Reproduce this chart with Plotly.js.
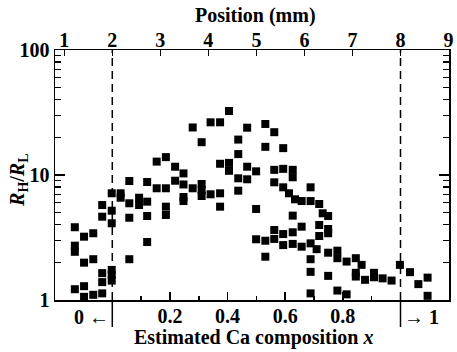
<!DOCTYPE html>
<html><head><meta charset="utf-8">
<script src="https://cdn.plot.ly/plotly-3.0.1.min.js"></script>
<style>html,body{margin:0;padding:0;background:#fff}#chart{width:457px;height:352px}</style>
</head><body><div id="chart"></div>
<script>
// Estimated Ca composition x for each measurement
const compositionX = [
  -0.130,-0.130,-0.130,-0.130,
  -0.098,-0.098,-0.098,-0.098,
  -0.066,-0.066,-0.066,
  -0.035,-0.035,-0.035,-0.035,-0.035,
  -0.002,-0.002,-0.002,-0.002,-0.002,-0.002,
  0.029,0.029,
  0.059,0.059,0.059,0.059,
  0.093,0.093,
  0.121,0.121,0.121,0.121,
  0.154,0.154,
  0.186,0.186,0.186,0.186,
  0.218,0.218,
  0.247,0.247,0.247,0.247,
  0.279,0.279,
  0.310,0.310,0.310,0.310,
  0.341,0.341,
  0.374,0.374,0.374,0.374,
  0.405,0.405,0.405,
  0.437,0.437,0.437,0.437,
  0.468,0.468,0.468,
  0.499,0.499,0.499,
  0.531,0.531,0.531,0.531,
  0.562,0.562,0.562,0.562,0.562,
  0.593,0.593,0.593,0.593,0.593,
  0.613,
  0.626,0.626,0.626,0.626,0.626,
  0.634,
  0.657,0.657,0.657,0.657,
  0.688,0.688,0.688,0.688,0.688,0.688,
  0.709,
  0.718,0.718,0.718,
  0.730,
  0.749,0.749,0.749,0.749,0.749,
  0.781,0.781,0.781,
  0.813,0.813,
  0.845,0.845,0.845,
  0.865,
  0.877,
  0.908,0.908,
  0.938,
  0.969,
  0.998,
  1.033,1.033,
  1.062,
  1.094,1.094
];
// Resistance ratio R_H / R_L
const ratioRHRL = [
  3.82,2.72,2.43,1.22,
  3.21,1.99,1.29,1.06,
  3.42,2.12,1.10,
  5.75,4.64,1.64,1.39,1.13,
  7.14,5.18,4.11,1.74,1.59,1.43,
  7.14,6.58,
  8.95,5.94,4.55,2.12,
  6.58,5.75,
  8.79,6.12,4.70,2.91,
  12.8,7.83,
  13.9,7.83,5.58,4.79,
  11.65,9.00,
  10.3,8.40,6.67,6.19,
  24.0,7.83,
  18.3,8.47,7.59,6.79,
  26.4,7.01,
  26.4,12.3,7.14,5.58,
  32.5,12.5,10.8,
  19.2,14.7,9.41,7.49,
  23.9,11.65,9.24,
  10.7,5.35,3.06,
  25.6,16.8,2.98,2.22,
  22.0,11.0,8.74,3.63,3.08,
  16.4,11.2,7.97,3.37,2.75,
  7.14,
  11.0,9.59,4.73,3.48,2.81,
  6.39,
  6.19,3.86,2.67,0.99,
  7.97,6.19,2.84,2.12,1.68,1.13,
  2.55,
  5.86,3.98,3.25,
  4.94,
  4.70,3.70,3.42,2.39,1.56,
  2.48,2.16,1.19,
  2.03,1.11,
  2.16,1.65,1.54,
  1.91,
  1.45,
  1.65,1.52,
  1.49,
  1.43,
  1.91,
  1.67,0.99,
  1.34,
  1.51,1.08
];

const xTickVals = [0.2, 0.4, 0.6, 0.8];
const xTickText = ['0.2', '0.4', '0.6', '0.8'];
const xMinorVals = [0.1, 0.3, 0.5, 0.7, 0.9];
const positionTickVals = [1, 2, 3, 4, 5, 6, 7, 8, 9];
const positionTickText = ['1', '2', '3', '4', '5', '6', '7', '8', '9'];
const yTickVals = [1, 10, 100];
const yTickText = ['1', '10', '100'];
const yMinorVals = [2,3,4,5,6,7,8,9,20,30,40,50,60,70,80,90];
const boundaryComps = [0, 1];
const boundaryLabels = ['0 \u2190', '\u2192 1'];

const compRange = [-0.1988, 1.1683];
// position (mm) = 2 + 6 * composition
const posRange = compRange.map(c => 2 + 6 * c);

const FONT = {family: 'Liberation Serif, Times New Roman, serif', size: 20, color: '#000', weight: 'bold'};

const traces = [
  {
    x: compositionX, y: ratioRHRL, type: 'scatter', mode: 'markers',
    marker: {symbol: 'square', size: 8, color: '#000', line: {width: 0}},
    cliponaxis: false, showlegend: false, hoverinfo: 'x+y'
  },
  {
    x: [null], y: [null], xaxis: 'x2', yaxis: 'y', type: 'scatter', mode: 'markers',
    showlegend: false, hoverinfo: 'skip'
  }
];

const shapes = [];
boundaryComps.forEach(c => {
  shapes.push({type: 'line', xref: 'x', yref: 'paper', x0: c, x1: c, y0: 0, y1: 1,
    line: {color: '#000', width: 1.5, dash: '8px,5px'}});
  shapes.push({type: 'line', xref: 'x', yref: 'paper', x0: c, x1: c, y0: 0, y1: -0.108,
    line: {color: '#000', width: 1.5}});
});

const annotations = [
  {text: boundaryLabels[0], xref: 'x', x: boundaryComps[0], xanchor: 'right', xshift: -1,
   yref: 'paper', y: -0.068, yanchor: 'middle', showarrow: false, font: FONT},
  {text: boundaryLabels[1], xref: 'x', x: boundaryComps[1], xanchor: 'left', xshift: 1,
   yref: 'paper', y: -0.068, yanchor: 'middle', showarrow: false, font: FONT},
  {text: 'Estimated Ca composition <i>x</i>', xref: 'paper', x: 0.505, xanchor: 'center',
   yref: 'paper', y: -0.148, yanchor: 'middle', showarrow: false, font: FONT},
  {text: 'Position (mm)', xref: 'paper', x: 0.510, xanchor: 'center',
   yref: 'paper', y: 1.14, yanchor: 'middle', showarrow: false, font: FONT},
  {text: '<i>R</i><sub>H</sub>/<i>R</i><sub>L</sub>', xref: 'paper', x: -0.094, xanchor: 'center',
   yref: 'paper', y: 0.48, yanchor: 'middle', textangle: -90, showarrow: false, font: FONT}
];

const layout = {
  width: 457, height: 352,
  margin: {l: 55, r: 8, t: 50, b: 52, pad: 0},
  paper_bgcolor: '#fff', plot_bgcolor: '#fff',
  font: FONT,
  showlegend: false,
  xaxis: {
    range: compRange, autorange: false, showgrid: false, zeroline: false,
    showline: true, linecolor: '#000', linewidth: 1.5, mirror: false,
    tickmode: 'array', tickvals: xTickVals, ticktext: xTickText,
    ticks: 'inside', ticklen: 8, tickwidth: 1.5, tickcolor: '#000',
    tickfont: FONT, ticklabelstandoff: -3,
    minor: {tickmode: 'array', tickvals: xMinorVals, ticks: 'inside', ticklen: 4, tickwidth: 1.5, tickcolor: '#000', showgrid: false}
  },
  xaxis2: {
    overlaying: 'x', side: 'top', anchor: 'y',
    range: posRange, autorange: false, showgrid: false, zeroline: false,
    showline: true, linecolor: '#000', linewidth: 1.5,
    tickmode: 'array', tickvals: positionTickVals, ticktext: positionTickText,
    ticks: 'inside', ticklen: 6, tickwidth: 1.5, tickcolor: '#000',
    tickfont: FONT, ticklabelstandoff: -6
  },
  yaxis: {
    type: 'log', range: [0, 2], autorange: false, showgrid: false, zeroline: false,
    showline: true, linecolor: '#000', linewidth: 1.5, mirror: 'ticks',
    tickmode: 'array', tickvals: yTickVals, ticktext: yTickText,
    ticks: 'inside', ticklen: 10, tickwidth: 1.5, tickcolor: '#000',
    tickfont: FONT,
    minor: {tickmode: 'array', tickvals: yMinorVals, ticks: 'inside', ticklen: 6, tickwidth: 1.5, tickcolor: '#000', showgrid: false}
  },
  shapes: shapes,
  annotations: annotations
};

Plotly.newPlot('chart', traces, layout, {staticPlot: true, displayModeBar: false});
</script>
</body></html>
